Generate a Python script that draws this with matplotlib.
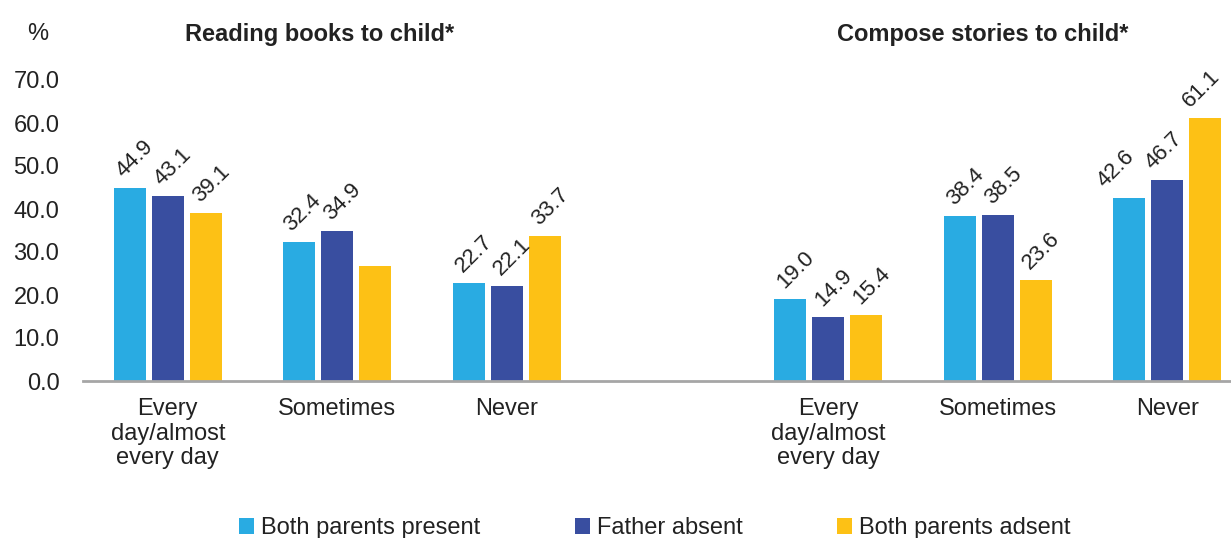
import matplotlib
matplotlib.use("Agg")
import matplotlib.pyplot as plt
import numpy as np

plt.rcParams['font.family'] = ['Liberation Sans', 'DejaVu Sans']

categories = ["Every\nday/almost\nevery day", "Sometimes", "Never",
              "Every\nday/almost\nevery day", "Sometimes", "Never"]
series_names = ["Both parents present", "Father absent", "Both parents adsent"]
both_present = [44.9, 32.4, 22.7, 19.0, 38.4, 42.6]
father_absent = [43.1, 34.9, 22.1, 14.9, 38.5, 46.7]
both_absent = [39.1, 26.7, 33.7, 15.4, 23.6, 61.1]
labels_present = ["44.9", "32.4", "22.7", "19.0", "38.4", "42.6"]
labels_father = ["43.1", "34.9", "22.1", "14.9", "38.5", "46.7"]
labels_absent = ["39.1", "", "33.7", "15.4", "23.6", "61.1"]
yticks = [0, 10, 20, 30, 40, 50, 60, 70]
titles = ["Reading books to child*", "Compose stories to child*"]

colors = ["#29ABE2", "#394EA0", "#FDC115"]
txt = '#222222'

fig = plt.figure(figsize=(12.31, 5.38), dpi=100)
ax = fig.add_axes([83/1231, 1-381/538, 1-83/1231, (381-80)/538])

xpos = np.array([0, 1, 2, 3.894, 4.894, 5.894])
width = 0.189
step = 0.224
allvals = [both_present, father_absent, both_absent]
alllabs = [labels_present, labels_father, labels_absent]

ax.set_xlim(-0.5, 6.27)
ax.set_ylim(0, 70)

for i, (vals, c, name) in enumerate(zip(allvals, colors, series_names)):
    ax.bar(xpos + (i - 1) * step, vals, width=width, color=c, label=name, zorder=2)

# rotated value labels with simple collision avoidance inside each group
min_gap = 21.0
label_len = 44.0
for k in range(len(xpos)):
    anchors = []
    for i in range(3):
        x = xpos[k] + (i - 1) * step
        v = allvals[i][k]
        px, py = ax.transData.transform((x, v))
        dx = -15 if x > 5.8 else -6
        anchors.append([px + dx, py + 10])
    for i in range(1, -1, -1):
        if not alllabs[i + 1][k] or not alllabs[i][k]:
            continue
        ddx = anchors[i + 1][0] - anchors[i][0]
        ddy = anchors[i + 1][1] - anchors[i][1]
        d = (ddx - ddy) / np.sqrt(2)
        along = (ddx + ddy) / np.sqrt(2)
        if abs(along) < label_len and d < min_gap:
            anchors[i][0] -= (min_gap - d) * np.sqrt(2)
    for i in range(3):
        lab = alllabs[i][k]
        if lab:
            ax.text(anchors[i][0], anchors[i][1], lab, transform=None,
                    rotation=45, rotation_mode='anchor', ha='left', va='baseline',
                    fontsize=16, color=txt, clip_on=False)

ax.set_yticks(yticks)
ax.set_yticklabels([f"{t:.1f}" for t in yticks], fontsize=17, color=txt)
ax.set_xticks(xpos)
ax.set_xticklabels(categories, fontsize=17, color=txt, linespacing=1.17, va='top')
ax.tick_params(axis='both', length=0)
ax.tick_params(axis='y', pad=17)
ax.tick_params(axis='x', pad=12)
for s in ['top', 'left', 'right']:
    ax.spines[s].set_visible(False)
ax.spines['bottom'].set_color('#A6A6A6')
ax.spines['bottom'].set_linewidth(2)
ax.spines['bottom'].set_zorder(3)

fig.text(38/1231, 1-34/538, "%", fontsize=17, ha='center', va='center', color=txt)
fig.text(320/1231, 1-34/538, titles[0], fontsize=17, fontweight='bold', ha='center', va='center', color=txt)
fig.text(983/1231, 1-34/538, titles[1], fontsize=17, fontweight='bold', ha='center', va='center', color=txt)

leg = fig.legend(loc='center', bbox_to_anchor=(655/1231, 1-528/538), ncol=3, frameon=False,
                 fontsize=17, handlelength=0.64, handleheight=0.68, handletextpad=0.3,
                 columnspacing=4.0, borderaxespad=0, borderpad=0)
for t in leg.get_texts():
    t.set_color(txt)

fig.savefig("out.png", dpi=100)
